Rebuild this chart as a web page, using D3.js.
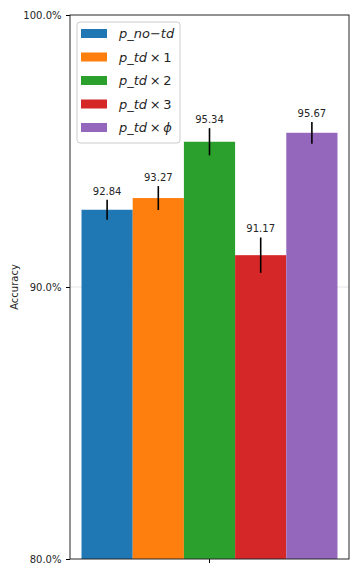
<!DOCTYPE html>
<html>
<head>
<meta charset="utf-8">
<script src="https://cdn.jsdelivr.net/npm/d3@7"></script>
<style>
  body { margin: 0; background: #fff; }
  text { font-family: "DejaVu Sans", sans-serif; fill: #262626; }
</style>
</head>
<body>
<div id="chart"></div>
<script>
// chart data
const series = ["p_no\u2212td", "p_td\u00d71", "p_td\u00d72", "p_td\u00d73", "p_td\u00d7\u03d5"];
const values = [92.84, 93.27, 95.34, 91.17, 95.67];
const errors = [0.37, 0.44, 0.5, 0.65, 0.4];
const colors = ["#1f77b4", "#ff7f0e", "#2ca02c", "#d62728", "#9467bd"];
const yTicks = [80, 90, 100];

const W = 360, H = 576;
const margin = { top: 15, right: 11, bottom: 17, left: 70 };
const width = W - margin.left - margin.right,
  height = H - margin.top - margin.bottom;

const svg = d3.select("#chart").append("svg")
  .attr("width", W)
  .attr("height", H);

const g = svg.append("g")
  .attr("transform", `translate(${margin.left},${margin.top})`);

const y = d3.scaleLinear().domain([80, 100]).range([height, 0]);

// one group, bars side by side
const x0 = d3.scaleBand().domain(["g"]).range([0, width]).paddingInner(0).paddingOuter(0.045);
const x1 = d3.scaleBand().domain(series).range([x0("g"), x0("g") + x0.bandwidth()]);

// grid line
g.append("g")
  .selectAll("line")
  .data(yTicks.filter(d => d > 80 && d < 100))
  .enter().append("line")
  .attr("x1", 0).attr("x2", width)
  .attr("y1", d => y(d)).attr("y2", d => y(d))
  .attr("stroke", "#e6e6e6").attr("stroke-width", 1);

// bars
g.selectAll("rect.bar")
  .data(series)
  .enter().append("rect")
  .attr("class", "bar")
  .attr("x", d => x1(d))
  .attr("width", x1.bandwidth())
  .attr("y", (d, i) => y(values[i]))
  .attr("height", (d, i) => height - y(values[i]))
  .attr("fill", (d, i) => colors[i]);

// error bars
g.selectAll("line.err")
  .data(series)
  .enter().append("line")
  .attr("class", "err")
  .attr("x1", d => x1(d) + x1.bandwidth() / 2)
  .attr("x2", d => x1(d) + x1.bandwidth() / 2)
  .attr("y1", (d, i) => y(values[i] - errors[i]))
  .attr("y2", (d, i) => y(values[i] + errors[i]))
  .attr("stroke", "#000").attr("stroke-width", 1.6);

// value labels
g.selectAll("text.val")
  .data(series)
  .enter().append("text")
  .attr("class", "val")
  .attr("x", d => x1(d) + x1.bandwidth() / 2)
  .attr("y", (d, i) => y(values[i] + errors[i]) - 5)
  .attr("text-anchor", "middle")
  .attr("font-size", 10)
  .text((d, i) => values[i].toFixed(2));

// axes
const yAxis = g.append("g")
  .call(d3.axisLeft(y).tickValues(yTicks).tickFormat(d => d.toFixed(1) + "%").tickSizeOuter(0).tickSize(4));
yAxis.selectAll("text").attr("font-size", 10).attr("fill", "#262626").attr("dx", "-0.15em");
yAxis.select(".domain").remove();

const xAxis = g.append("g")
  .attr("transform", `translate(0,${height})`)
  .call(d3.axisBottom(x0).tickFormat("").tickSizeOuter(0).tickSize(4));
xAxis.select(".domain").remove();

// frame
g.append("rect")
  .attr("width", width).attr("height", height)
  .attr("fill", "none").attr("stroke", "#262626").attr("stroke-width", 1);

// y label
svg.append("text")
  .attr("transform", `translate(18,${margin.top + height / 2}) rotate(-90)`)
  .attr("text-anchor", "middle")
  .attr("font-size", 10)
  .text("Accuracy");

// legend
const legend = g.append("g").attr("transform", "translate(7,7)");
legend.append("rect")
  .attr("width", 103).attr("height", 121)
  .attr("rx", 3)
  .attr("fill", "#fff").attr("fill-opacity", 0.8)
  .attr("stroke", "#ccc");

const items = legend.selectAll("g.item")
  .data(series)
  .enter().append("g")
  .attr("class", "item")
  .attr("transform", (d, i) => `translate(4,${7 + i * 23.5})`);

items.append("rect")
  .attr("width", 26).attr("height", 9)
  .attr("fill", (d, i) => colors[i]);

// mathtext-like label: letters italic, digits and operators upright
const label = items.append("text")
  .attr("x", 38).attr("y", 9)
  .attr("font-size", 13);

label.selectAll("tspan")
  .data(d => d.match(/[A-Za-z_\u03d5]+|[\u2212\u00d7]|[0-9]+/g))
  .enter().append("tspan")
  .attr("font-style", t => /[A-Za-z_\u03d5]/.test(t) ? "italic" : "normal")
  .text(t => t === "\u00d7" ? "\u2009" + t + "\u2009" : t);
</script>
</body>
</html>
